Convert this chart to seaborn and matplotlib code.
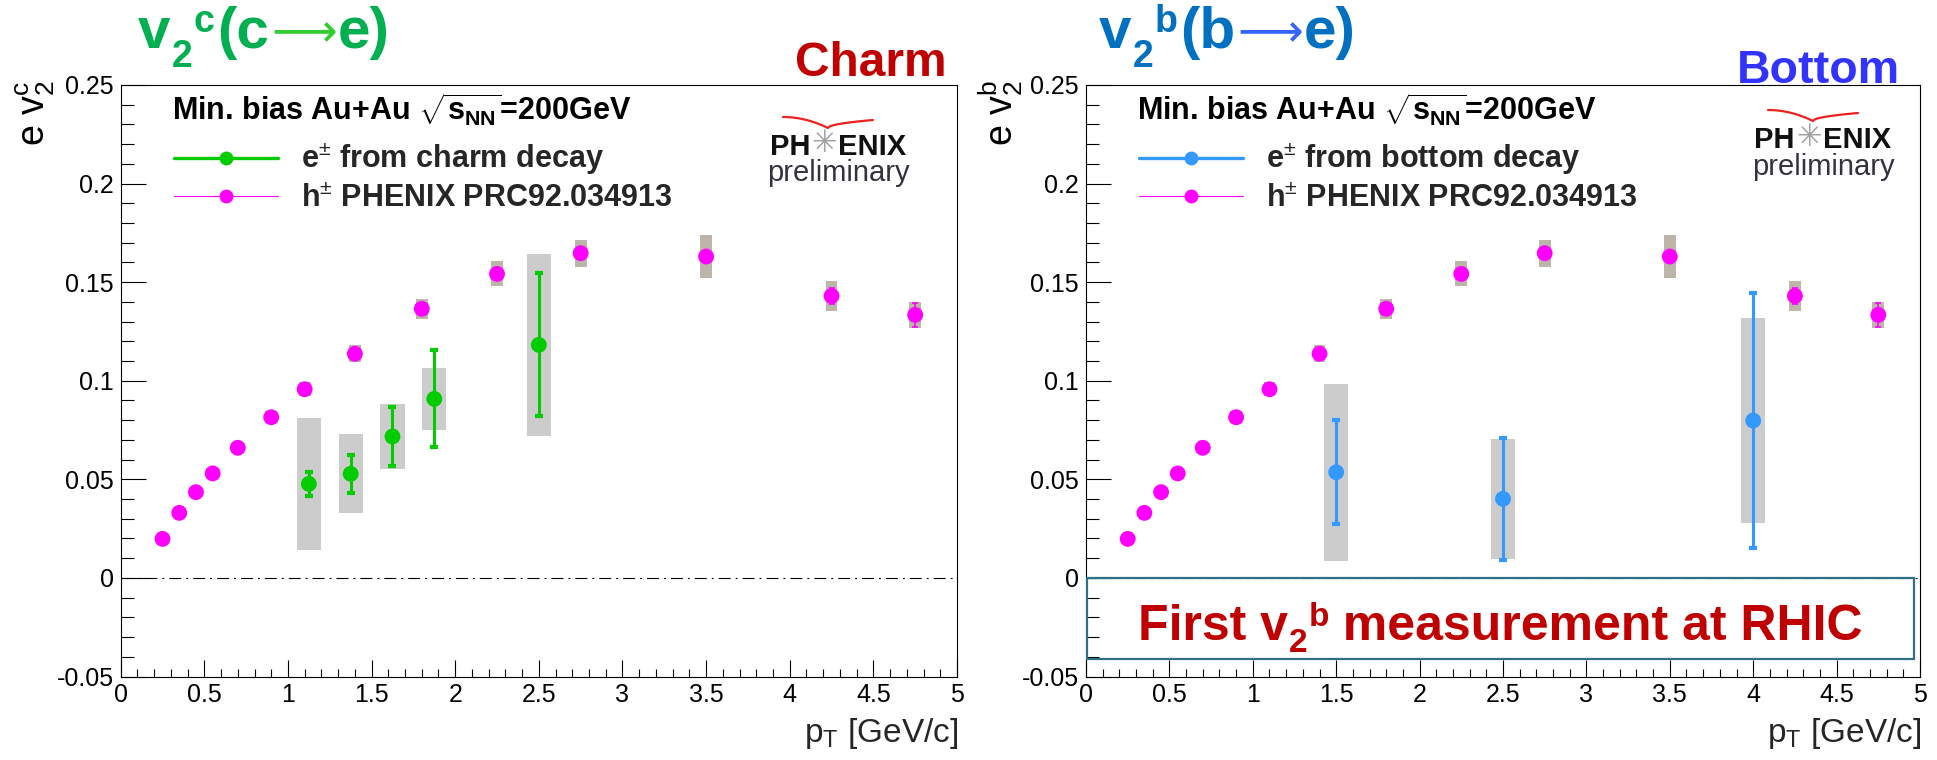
import numpy as np
import pandas as pd
import matplotlib
matplotlib.use("Agg")
import matplotlib.pyplot as plt
import seaborn as sns
from matplotlib.lines import Line2D
from matplotlib.patches import Rectangle
from matplotlib.ticker import MultipleLocator

# ---------------- data ----------------
h_pt = [0.25, 0.35, 0.45, 0.55, 0.70, 0.90, 1.10, 1.40, 1.80, 2.25, 2.75, 3.50, 4.25, 4.75]
h_v2 = [0.0198, 0.0330, 0.0435, 0.0530, 0.0660, 0.0815, 0.0957, 0.1137, 0.1365, 0.1542, 0.1647, 0.1630, 0.1430, 0.1334]
h_stat = [0.0008, 0.0008, 0.0009, 0.0010, 0.0010, 0.0012, 0.0013, 0.0015, 0.0018, 0.0022, 0.0025, 0.0030, 0.0040, 0.0062]
h_sys = [0.0010, 0.0015, 0.0018, 0.0020, 0.0025, 0.0030, 0.0035, 0.0044, 0.0050, 0.0063, 0.0069, 0.0107, 0.0076, 0.0066]

c_pt = [1.125, 1.375, 1.625, 1.875, 2.5]
c_v2 = [0.0477, 0.0528, 0.0717, 0.0908, 0.1182]
c_stat = [0.0060, 0.0097, 0.0150, 0.0246, 0.0362]
c_sys = [0.0335, 0.0201, 0.0163, 0.0157, 0.0463]

b_pt = [1.5, 2.5, 4.0]
b_v2 = [0.0536, 0.0401, 0.0798]
b_stat = [0.0265, 0.0310, 0.0646]
b_sys = [0.0450, 0.0303, 0.0520]

x_ticks = [0, 0.5, 1, 1.5, 2, 2.5, 3, 3.5, 4, 4.5, 5]
x_ticklabels = ["0", "0.5", "1", "1.5", "2", "2.5", "3", "3.5", "4", "4.5", "5"]
y_ticks = [-0.05, 0, 0.05, 0.1, 0.15, 0.2, 0.25]
y_ticklabels = ["-0.05", "0", "0.05", "0.1", "0.15", "0.2", "0.25"]

# ---------------- style ----------------
sns.set_theme(style="white")
FAM = ["Liberation Sans", "DejaVu Sans"]
plt.rcParams["font.family"] = FAM
plt.rcParams["mathtext.fontset"] = "custom"
plt.rcParams["mathtext.rm"] = "Liberation Sans"
plt.rcParams["mathtext.it"] = "Liberation Sans:italic"
plt.rcParams["mathtext.bf"] = "Liberation Sans:bold"
plt.rcParams["lines.scale_dashes"] = False

MAG = "#ff00ff"
GREEN = "#00cc00"
BLUE = "#3399ff"
HSYS = "#bdb4aa"
GSYS = "#cccccc"

W, H = 1937, 760
fig = plt.figure(figsize=(W / 100, H / 100), dpi=100)
fig.patch.set_facecolor("white")


def fx(px):
    return px / W


def fy(py):
    return 1 - py / H


axL = fig.add_axes([fx(120.7), fy(676.5), fx(957 - 120.7), 591.5 / H])
axR = fig.add_axes([fx(1086), fy(676.5), fx(1920 - 1086), 591.5 / H])


def panel(ax, f_pt, f_v2, f_stat, f_sys, f_color, f_label):
    hdf = pd.DataFrame({"pT": h_pt, "v2": h_v2, "stat": h_stat, "sys": h_sys})
    fdf = pd.DataFrame({"pT": f_pt, "v2": f_v2, "stat": f_stat, "sys": f_sys})
    ax.set_facecolor("white")
    ax.bar(hdf["pT"], 2 * hdf["sys"], bottom=hdf["v2"] - hdf["sys"], width=0.07,
           color=HSYS, linewidth=0, zorder=1)
    ax.bar(fdf["pT"], 2 * fdf["sys"], bottom=fdf["v2"] - fdf["sys"], width=0.145,
           color=GSYS, linewidth=0, zorder=1)
    ax.axhline(0, color="black", lw=0.8, ls=(0, (8.6, 3.6, 1.4, 3.6)), zorder=0.5)
    ax.errorbar(hdf["pT"], hdf["v2"], yerr=hdf["stat"], fmt="none", ecolor=MAG,
                elinewidth=1.2, capsize=2.5, capthick=1.2, zorder=2)
    sns.scatterplot(data=hdf, x="pT", y="v2", ax=ax, color=MAG, s=130,
                    edgecolor="none", linewidth=0, zorder=3, legend=False)
    ax.errorbar(fdf["pT"], fdf["v2"], yerr=fdf["stat"], fmt="none", ecolor=f_color,
                elinewidth=2.2, capsize=2.9, capthick=3, zorder=4)
    sns.scatterplot(data=fdf, x="pT", y="v2", ax=ax, color=f_color, s=130,
                    edgecolor="none", linewidth=0, zorder=5, legend=False)

    ax.set_xlim(0, 5)
    ax.set_ylim(-0.05, 0.25)
    ax.set_xticks(x_ticks)
    ax.set_xticklabels(x_ticklabels)
    ax.set_yticks(y_ticks)
    ax.set_yticklabels(y_ticklabels)
    ax.xaxis.set_minor_locator(MultipleLocator(0.1))
    ax.yaxis.set_minor_locator(MultipleLocator(0.01))
    ax.tick_params(which="both", direction="in", top=False, right=False,
                   bottom=True, left=True, colors="black", width=0.8)
    ax.tick_params(axis="y", which="major", length=18, pad=5, labelsize=18)
    ax.tick_params(axis="y", which="minor", length=9)
    ax.tick_params(axis="x", which="major", length=12, pad=5, labelsize=18)
    ax.tick_params(axis="x", which="minor", length=6)
    ax.set_xlabel("")
    ax.set_ylabel("")
    for s in ax.spines.values():
        s.set_color("black")
        s.set_linewidth(0.8)
        s.set_visible(True)

    ax.text(0.061, 0.9388, r"Min. bias Au+Au $\sqrt{\mathbf{s}_{\mathbf{NN}}}$=200GeV",
            transform=ax.transAxes, fontsize=22, fontweight="bold", color="black",
            ha="left", va="baseline")
    handles = [
        Line2D([], [], color=f_color, lw=2.4, marker="o", markersize=10, markeredgewidth=0),
        Line2D([], [], color=MAG, lw=0.8, marker="o", markersize=10, markeredgewidth=0),
    ]
    labels = [f_label, r"h$^{\pm}$ PHENIX PRC92.034913"]
    ax.legend(handles, labels, loc="upper left", bbox_to_anchor=(0.064, 0.905),
              frameon=False, prop={"family": FAM, "weight": "bold", "size": 22},
              handlelength=3.4, handletextpad=0.75, labelspacing=0.22,
              borderpad=0, borderaxespad=0)


panel(axL, c_pt, c_v2, c_stat, c_sys, GREEN, r"e$^{\pm}$ from charm decay")
panel(axR, b_pt, b_v2, b_stat, b_sys, BLUE, r"e$^{\pm}$ from bottom decay")

renderer = fig.canvas.get_renderer()


def chain(x_px, base_px, pieces):
    """Write text pieces one after another on a shared baseline (dy shifts down)."""
    x = x_px
    arts = []
    for s, col, weight, size, fam, dy, gap in pieces:
        x += gap
        t = fig.text(fx(x), fy(base_px + dy), s, color=col, fontsize=size, fontweight=weight,
                     ha="left", va="baseline", family=fam, zorder=8)
        bb = t.get_window_extent(renderer)
        x = bb.x1
        arts.append(t)
    return arts, x


# box in right panel
axR.add_patch(Rectangle((0.006, -0.0413), 4.958, 0.0413, fill=False,
                        edgecolor="#2e7085", lw=1.6, zorder=6))
RED = "#c00000"
box_pieces = [("First v", RED, "bold", 36, FAM, 0, 0),
              ("2", RED, "bold", 24, FAM, 12, 1),
              ("b", RED, "bold", 24, FAM, -14, 1),
              (" measurement at RHIC", RED, "bold", 36, FAM, 0, 0)]
arts, xend = chain(0, 640, box_pieces)
shift = 1500.5 - xend / 2.0
for a in arts:
    px0 = a.get_position()[0] * W
    a.set_x(fx(px0 + shift))

# axis labels
fig.text(fx(35.5), fy(80), r"e v$_\mathrm{2}^\mathrm{c}$", rotation=90, fontsize=27,
         ha="center", va="top", color="black")
fig.text(fx(1001), fy(80), r"e v$_\mathrm{2}^\mathrm{b}$", rotation=90, fontsize=27,
         ha="center", va="top", color="black")
fig.text(fx(958), fy(742), r"p$_\mathrm{T}$ [GeV/c]", fontsize=24, ha="right", va="baseline")
fig.text(fx(1921), fy(742), r"p$_\mathrm{T}$ [GeV/c]", fontsize=24, ha="right", va="baseline")

# panel headers
fig.text(fx(947), fy(76), "Charm", fontsize=34.5, fontweight="bold", color="#c00000",
         ha="right", va="baseline")
fig.text(fx(1900), fy(83), "Bottom", fontsize=33.5, fontweight="bold", color="#3333ff",
         ha="right", va="baseline")

chain(138, 48, [("v", "#00b050", "bold", 42, FAM, 0, 0),
                ("2", "#00b050", "bold", 27, FAM, 19, 1),
                ("c", "#00b050", "bold", 27, FAM, -16, 1),
                ("(c", "#00b050", "bold", 42, FAM, 0, 3),
                ("\u27f6", "#33cc33", "normal", 33, ["DejaVu Sans"], -2, 2),
                ("e)", "#00b050", "bold", 42, FAM, 0, 1)])
chain(1099, 48, [("v", "#0070c0", "bold", 42, FAM, 0, 0),
                 ("2", "#0070c0", "bold", 27, FAM, 19, 1),
                 ("b", "#0070c0", "bold", 27, FAM, -16, 1),
                 ("(b", "#0070c0", "bold", 42, FAM, 0, 3),
                 ("\u27f6", "#3366ff", "normal", 33, ["DejaVu Sans"], -2, 2),
                 ("e)", "#0070c0", "bold", 42, FAM, 0, 1)])


# PHENIX preliminary logos
def logo(x0, base1, base2):
    fig.text(fx(x0 + 42), fy(base1), "PH", fontsize=21, fontweight="bold", color="#111111",
             ha="right", va="baseline")
    fig.text(fx(x0 + 56), fy(base1 - 11), "\u2733", fontsize=22, color="#a0a0a0",
             ha="center", va="center", family=["DejaVu Sans"])
    fig.text(fx(x0 + 70), fy(base1), "ENIX", fontsize=21, fontweight="bold", color="#111111",
             ha="left", va="baseline")
    fig.text(fx(x0 - 1), fy(base2), "preliminary", fontsize=21, color="#333340",
             ha="left", va="baseline")
    t = np.linspace(0, 1, 30)
    xl = x0 + 15 + 45 * t
    yl = base1 - 38 + 11 * t ** 2
    xr = x0 + 60 + 45 * t
    yr = base1 - 27 - 8 * np.sqrt(t)
    xs = np.concatenate([xl, xr])
    ys = np.concatenate([yl, yr])
    fig.add_artist(Line2D(fx(xs), fy(ys), color="#ee2020", lw=1.6))


logo(768, 155, 181)
logo(1753, 148, 175)

fig.savefig("out.png", dpi=100)
